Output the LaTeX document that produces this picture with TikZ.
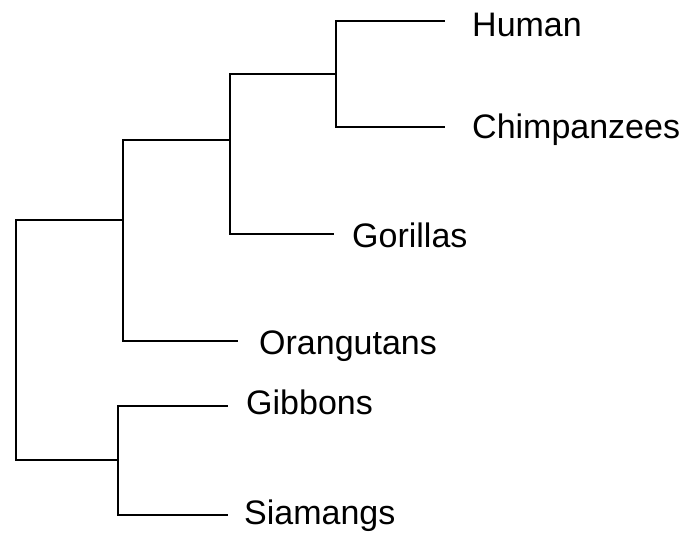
\documentclass[tikz,border=0pt]{standalone}
\usepackage{fontspec}
\setmainfont{Liberation Sans}
\begin{document}
\begin{tikzpicture}[x=1pt,y=-1pt,
  branch/.style={line width=2.8pt,line join=miter,line cap=rect},
  leaf/.style={anchor=base west,inner sep=0pt,font=\fontsize{34}{38}\selectfont}]
\useasboundingbox (0,0) rectangle (694,534);
% internal coordinates
\coordinate (rT) at (16,220);
\coordinate (rB) at (16,460);
\coordinate (aT) at (123,140);
\coordinate (aM) at (123,220);
\coordinate (aB) at (123,341);
\coordinate (bT) at (230,74);
\coordinate (bM) at (230,140);
\coordinate (bB) at (230,234);
\coordinate (cT) at (336,21);
\coordinate (cM) at (336,74);
\coordinate (cB) at (336,127);
\coordinate (gT) at (118,406);
\coordinate (gM) at (118,460);
\coordinate (gB) at (118,515);
% leaf ends
\coordinate (humE) at (444,21);
\coordinate (chiE) at (444,127);
\coordinate (gorE) at (333,234);
\coordinate (oraE) at (237,341);
\coordinate (gibE) at (227,406);
\coordinate (siaE) at (227,515);
% labels
\node[leaf] (hum) at (472,37) {Human};
\node[leaf] (chi) at (472,139) {Chimpanzees};
\node[leaf] (gor) at (352,248) {Gorillas};
\node[leaf] (ora) at (259,355) {Orangutans};
\node[leaf] (gib) at (246,415) {Gibbons};
\node[leaf] (sia) at (244,525) {Siamangs};
% branches
\draw[branch] (humE) -- (cT) -- (cB) -- (chiE);
\draw[branch] (bM) -- (bT) -- (cM);
\draw[branch] (bM) -- (bB) -- (gorE);
\draw[branch] (aM) -- (aT) -- (bM);
\draw[branch] (aM) -- (aB) -- (oraE);
\draw[branch] (gibE) -- (gT) -- (gB) -- (siaE);
\draw[branch] (aM) -- (rT) -- (rB) -- (gM);
\end{tikzpicture}
\end{document}
